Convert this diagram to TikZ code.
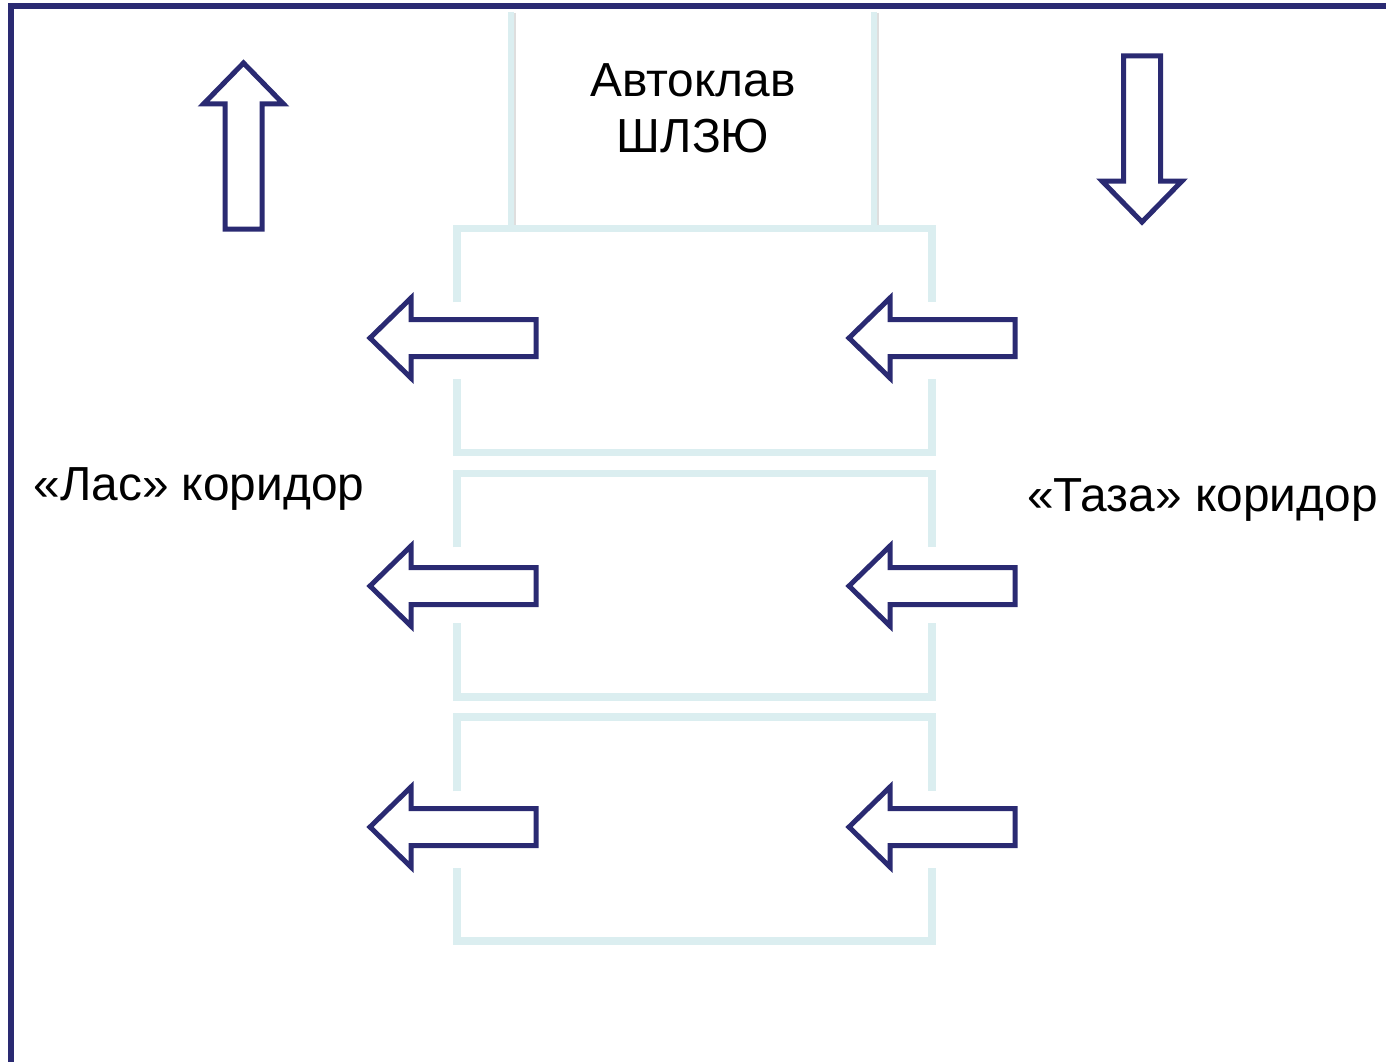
\documentclass[tikz,border=0pt]{standalone}
\usepackage{fontspec}
\setmainfont{Liberation Sans}
\definecolor{navy}{RGB}{42,42,114}
\definecolor{roomcyan}{RGB}{219,238,240}
\tikzset{
  frameline/.style={draw=navy, line width=6pt},
  arrowline/.style={draw=navy, line width=5pt, fill=white, line join=miter, miter limit=10},
  roomline/.style={draw=roomcyan, line width=7.5pt, line join=miter},
  label/.style={font=\fontsize{47.8}{56}\selectfont, text=black, inner sep=0pt},
  pics/blkarrow/.style={code={
    \draw[arrowline] (0,0) -- (-41,40) -- (-41,18.5) -- (-166,18.5) -- (-166,-18.5) -- (-41,-18.5) -- (-41,-40) -- cycle;
  }}
}
\begin{document}
\begin{tikzpicture}[x=1pt,y=-1pt]
\useasboundingbox[fill=white] (0,0) rectangle (1386,1062);
% outer frame (only top and left visible)
\coordinate (fbl) at (11,1075);
\coordinate (ftl) at (11,6.5);
\coordinate (ftr) at (1400,6.5);
\draw[frameline] (fbl) -- (ftl) -- (ftr);
% autoclave walls
\coordinate (aw1t) at (511,12);
\coordinate (aw1b) at (511,225);
\coordinate (aw2t) at (874,12);
\coordinate (aw2b) at (874,225);
\draw[draw=black!25, line width=8pt, opacity=0.5] ([xshift=0.8pt,yshift=-1pt]aw1t) -- ([xshift=0.8pt,yshift=-1pt]aw1b);
\draw[draw=black!25, line width=8pt, opacity=0.5] ([xshift=0.8pt,yshift=-1pt]aw2t) -- ([xshift=0.8pt,yshift=-1pt]aw2b);
\draw[draw=roomcyan, line width=6pt] (aw1t) -- (aw1b);
\draw[draw=roomcyan, line width=6pt] (aw2t) -- (aw2b);
% rooms
\foreach \T/\B/\ga/\gb in {228.5/452.5/302/379, 473.5/697/547/623, 717/941/791/868}{
  \draw[roomline] (457,\ga) -- (457,\T) -- (932,\T) -- (932,\ga);
  \draw[roomline] (457,\gb) -- (457,\B) -- (932,\B) -- (932,\gb);
}
% arrows
\pic (up) at (243.5,63) [rotate=90] {blkarrow};
\pic (down) at (1142,222) [rotate=-90] {blkarrow};
\foreach \y [count=\i] in {338,586,827}{
  \pic (la\i) at (370,\y) [rotate=180] {blkarrow};
  \pic (ra\i) at (849,\y) [rotate=180] {blkarrow};
}
% labels
\node[label, anchor=base] (auto) at (693,97) {Автоклав};
\node[label, anchor=base] (shl) at (693,153) {ШЛЗЮ};
\node[label, anchor=base] (las) at (199,500) {«Лас» коридор};
\node[label, anchor=base] (taza) at (1202.5,511) {«Таза» коридор};
\end{tikzpicture}
\end{document}
